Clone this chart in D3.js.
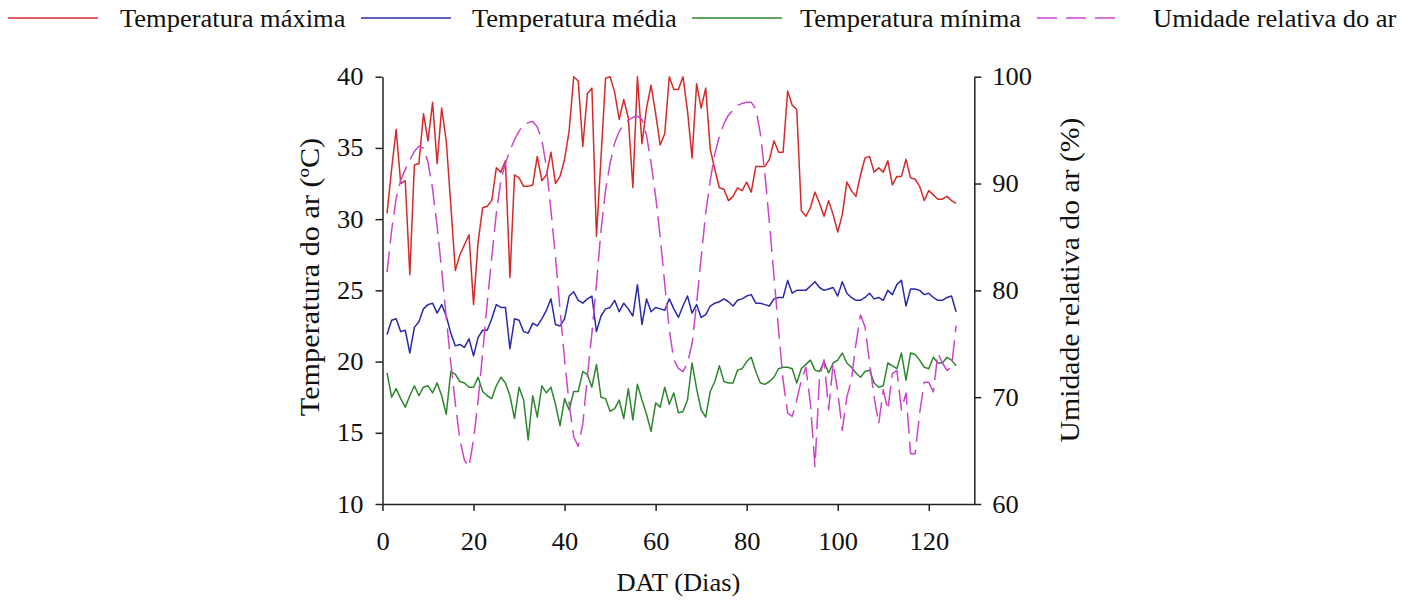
<!DOCTYPE html>
<html>
<head>
<meta charset="utf-8">
<script src="https://cdn.jsdelivr.net/npm/d3@7"></script>
<style>
  body { margin: 0; background: #fff; }
  text { font-family: "Liberation Serif", "Times New Roman", serif; fill: #111; }
</style>
</head>
<body>
<div id="container"></div>
<script>
let w = 1416;
let h = 600;

// days after transplanting, 1..126
let days = d3.range(1, 127);

let tempMax = [30.4,33.5,36.3,32.5,32.7,26.1,33.8,33.9,37.4,35.5,
  38.2,33.9,37.8,35.5,31.0,26.4,27.5,28.2,28.9,24.0,
  28.4,30.8,30.9,31.3,33.6,33.3,34.1,25.9,33.1,32.9,
  32.3,32.3,32.4,34.4,32.7,33.1,34.7,32.5,33.0,34.2,
  36.2,40.0,39.7,35.1,38.8,39.2,28.8,34.3,39.9,40.0,
  38.9,37.0,38.4,37.1,32.2,40.0,35.3,37.8,39.4,37.4,
  35.2,36.0,40.0,39.1,39.1,40.0,37.6,34.3,39.5,37.8,
  39.2,34.9,33.5,32.2,32.1,31.3,31.6,32.2,32.0,32.6,
  31.9,33.7,33.7,33.7,34.2,35.5,34.7,34.7,39.0,38.0,
  37.7,30.6,30.2,30.8,31.9,31.1,30.2,31.3,30.3,29.1,
  30.3,32.6,32.0,31.6,33.1,34.3,34.4,33.3,33.6,33.3,
  34.1,32.4,33.0,33.0,34.2,32.9,32.8,32.3,31.3,32.0,
  31.7,31.4,31.4,31.6,31.3,31.1];

let tempMed = [21.9,22.9,23.0,22.1,22.2,20.6,22.4,22.8,23.7,24.0,
  24.1,23.4,24.0,23.2,22.0,21.1,21.2,21.0,21.6,20.4,
  21.7,22.2,22.2,23.0,24.0,23.8,23.8,20.9,23.0,22.9,
  22.1,22.0,22.7,22.5,23.0,23.6,24.4,22.6,22.5,23.0,
  24.6,24.9,24.3,24.1,24.4,24.6,22.1,23.2,23.7,23.8,
  24.3,23.5,24.1,23.7,23.2,25.4,22.6,24.4,23.5,23.8,
  23.7,23.6,24.4,23.7,23.1,23.9,24.6,23.4,24.0,23.1,
  23.3,23.9,24.1,24.2,24.4,24.2,23.9,24.3,24.4,24.6,
  24.7,24.1,24.1,24.0,23.9,24.4,24.5,24.5,25.7,24.8,
  25.0,25.0,25.0,25.3,25.6,25.2,25.0,25.1,25.2,24.6,
  25.6,24.8,24.5,24.3,24.3,24.5,24.8,24.4,24.5,24.3,
  25.0,24.7,25.4,25.7,23.9,25.1,25.1,25.0,24.7,24.8,
  24.5,24.3,24.3,24.5,24.6,23.5];

let tempMin = [19.2,17.5,18.1,17.4,16.8,17.6,18.3,17.6,18.2,18.3,
  17.8,18.5,17.6,16.3,19.3,19.1,18.6,18.5,18.2,18.2,
  18.9,17.9,17.6,17.4,18.3,18.9,18.5,17.6,16.0,18.2,
  17.3,14.5,17.6,16.1,18.3,17.8,18.2,17.0,15.5,17.4,
  16.6,17.9,17.9,19.3,19.1,18.2,19.8,17.5,17.4,16.5,
  16.7,17.3,16.0,18.1,15.9,18.4,17.3,16.3,15.1,17.1,
  16.8,18.2,17.0,17.8,16.4,16.5,17.3,19.9,18.1,16.6,
  16.1,17.9,18.6,19.7,18.6,18.5,18.5,19.4,19.5,20.0,
  20.3,19.3,18.5,18.4,18.6,18.9,19.5,19.6,19.6,19.5,
  18.5,19.5,19.8,20.1,19.4,19.3,20.0,19.2,19.9,20.1,
  20.6,19.9,19.6,19.2,18.9,19.3,19.4,18.5,18.2,18.3,
  19.9,19.7,19.5,20.6,18.7,20.6,20.5,20.1,19.6,19.5,
  20.3,19.9,19.9,20.3,20.1,19.7];

let umidade = [81.7,85.6,88.6,90.3,91.3,92.2,93.0,93.5,93.3,92.0,
  89.5,86.0,81.9,77.5,73.2,69.4,66.0,64.1,63.5,66.0,
  69.7,74.1,78.8,83.1,87.2,90.3,91.9,93.1,94.1,94.9,
  95.5,95.7,95.8,95.3,94.1,91.6,87.5,83.1,78.2,73.5,
  69.4,66.3,65.4,67.5,71.9,76.0,80.6,85.6,89.4,91.9,
  93.8,94.9,95.5,95.9,96.2,96.3,96.0,94.5,91.9,88.8,
  85.0,80.6,76.3,73.5,72.7,72.4,73.2,75.0,78.8,83.1,
  87.2,90.3,92.8,94.4,95.6,96.4,96.9,97.3,97.5,97.6,
  97.6,97.0,94.7,90.9,86.3,81.3,76.3,71.6,68.5,68.2,
  69.7,71.6,72.8,69.4,63.5,71.9,73.5,68.8,73.2,70.5,
  66.9,70.0,71.6,75.0,77.7,76.6,73.2,70.0,67.5,70.7,
  68.8,72.2,72.5,68.8,70.4,64.7,64.7,68.5,71.4,71.4,
  70.5,74.1,73.2,72.5,72.8,76.7];

let seriesNames = ["Temperatura máxima", "Temperatura média", "Temperatura mínima", "Umidade relativa do ar"];
let xTicks = [0, 20, 40, 60, 80, 100, 120];
let yLeftTicks = [10, 15, 20, 25, 30, 35, 40];
let yRightTicks = [60, 70, 80, 90, 100];

// layout
let plotL = 382.5, plotR = 974.3, plotT = 76.7, plotB = 504;
let sx = 1.06;   // the original figure is a bit wider than tall
let fontSize = 25;
let axisColor = "#222";

let colors = ["#d42a2a", "#2a2aa8", "#2d862d", "#cc44cc"];

let viz = d3.select("#container")
  .append("svg")
    .attr("width", w)
    .attr("height", h)
    .style("background-color", "white")
;

let xScale = d3.scaleLinear().domain([0, 130]).range([plotL, plotR]);
let yLeft = d3.scaleLinear().domain([10, 40]).range([plotB, plotT]);
let yRight = d3.scaleLinear().domain([60, 100]).range([plotB, plotT]);

// lines
function drawLine(values, scale, color, dash){
  let line = d3.line()
    .x(function(d, i){ return xScale(days[i]); })
    .y(function(d){ return scale(d); });
  viz.append("path")
    .datum(values)
    .attr("d", line)
    .attr("fill", "none")
    .attr("stroke", color)
    .attr("stroke-width", 1.5)
    .attr("stroke-linejoin", "round")
    .attr("stroke-dasharray", dash);
}

drawLine(tempMax, yLeft, colors[0], null);
drawLine(tempMed, yLeft, colors[1], null);
drawLine(tempMin, yLeft, colors[2], null);
drawLine(umidade, yRight, colors[3], "21,8");

// axes
function styleAxis(g){
  g.selectAll("path, line").attr("stroke", axisColor).attr("stroke-width", 1.5);
  g.selectAll("text")
    .style("font-size", fontSize + "px")
    .attr("fill", "#111");
}

let xAxis = viz.append("g")
  .attr("transform", "translate(0," + plotB + ")")
  .call(d3.axisBottom(xScale).tickValues(xTicks).tickSize(7).tickSizeOuter(0).tickPadding(21));
styleAxis(xAxis);
xAxis.selectAll("text").attr("transform", "scale(" + sx + ",1)");

let leftAxis = viz.append("g")
  .attr("transform", "translate(" + plotL + ",0)")
  .call(d3.axisLeft(yLeft).tickValues(yLeftTicks).tickSize(7).tickSizeOuter(0).tickPadding(11));
styleAxis(leftAxis);
leftAxis.selectAll("text").attr("transform", "scale(" + sx + ",1)");

let rightAxis = viz.append("g")
  .attr("transform", "translate(" + plotR + ",0)")
  .call(d3.axisRight(yRight).tickValues(yRightTicks).tickSize(7).tickSizeOuter(0).tickPadding(10));
styleAxis(rightAxis);
rightAxis.selectAll("text").attr("transform", "scale(" + sx + ",1)");

// axis titles
viz.append("text")
  .attr("transform", "translate(" + ((plotL + plotR) / 2) + ",591) scale(" + sx + ",1)")
  .attr("text-anchor", "middle")
  .style("font-size", fontSize + "px")
  .text("DAT (Dias)");

viz.append("text")
  .attr("transform", "translate(319,277) rotate(-90) scale(1.12,1)")
  .attr("text-anchor", "middle")
  .style("font-size", "27px")
  .text("Temperatura do ar (ºC)");

viz.append("text")
  .attr("transform", "translate(1079,280) rotate(-90) scale(1.1,1)")
  .attr("text-anchor", "middle")
  .style("font-size", "27px")
  .text("Umidade relativa do ar (%)");

// legend across the top
let legendLineX = [[8, 98], [361, 451], [692, 782], [1037, 1124]];
let legendTextX = [120, 472, 800, 1153];
let legendY = 18;

let legend = viz.selectAll(".legend").data(seriesNames).enter()
  .append("g")
  .classed("legend", true);

legend.append("line")
  .attr("x1", function(d, i){ return legendLineX[i][0]; })
  .attr("x2", function(d, i){ return legendLineX[i][1]; })
  .attr("y1", legendY)
  .attr("y2", legendY)
  .attr("stroke", function(d, i){ return colors[i]; })
  .attr("stroke-width", 1.5)
  .attr("stroke-dasharray", function(d, i){ return i == 3 ? "20,9" : null; });

legend.append("text")
  .attr("transform", function(d, i){ return "translate(" + legendTextX[i] + "," + (legendY + 9) + ") scale(" + sx + ",1)"; })
  .style("font-size", fontSize + "px")
  .text(function(d){ return d; });
</script>
</body>
</html>
